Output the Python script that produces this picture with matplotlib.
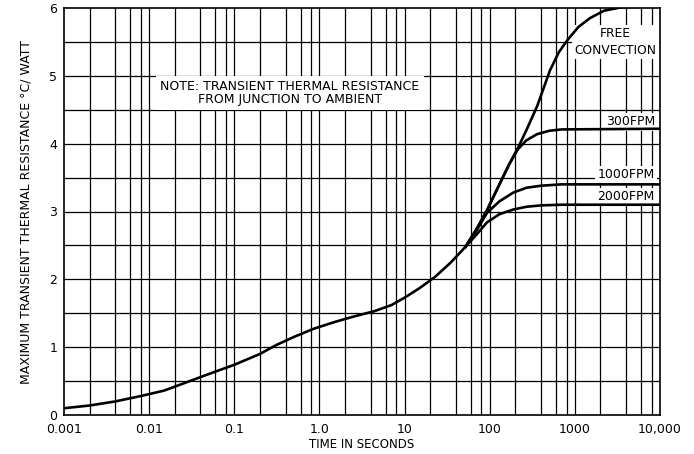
import matplotlib
matplotlib.use("Agg")
import matplotlib.pyplot as plt
import numpy as np

plt.rcParams['font.family'] = ['DejaVu Sans']

# common part of the curve (all conditions), time in s, resistance in degC/W
t_common = [0.001, 0.002, 0.004, 0.008, 0.015, 0.03, 0.06, 0.1, 0.2, 0.31, 0.5,
            0.85, 1.5, 2.5, 4.4, 7, 10, 15, 23, 35, 52]
r_common = [0.10, 0.14, 0.20, 0.28, 0.36, 0.50, 0.64, 0.74, 0.90, 1.03, 1.15,
            1.27, 1.37, 1.45, 1.53, 1.62, 1.73, 1.87, 2.04, 2.25, 2.48]

# branches after ~50 s
t_free = [52, 70, 93, 130, 170, 215, 270, 360, 510, 650, 810, 1100, 1500, 2200, 3500, 10000]
r_free = [2.48, 2.74, 3.02, 3.40, 3.70, 3.94, 4.20, 4.55, 5.08, 5.35, 5.52, 5.72, 5.85, 5.96, 6.01, 6.03]

t_300 = [52, 70, 93, 130, 170, 215, 270, 360, 500, 700, 10000]
r_300 = [2.48, 2.74, 3.02, 3.40, 3.70, 3.92, 4.05, 4.14, 4.19, 4.21, 4.22]

t_1000 = [52, 70, 93, 130, 190, 270, 400, 700, 10000]
r_1000 = [2.48, 2.72, 2.98, 3.15, 3.28, 3.35, 3.38, 3.40, 3.40]

t_2000 = [52, 70, 93, 130, 190, 270, 400, 700, 10000]
r_2000 = [2.48, 2.66, 2.84, 2.96, 3.03, 3.07, 3.09, 3.10, 3.10]

xtick_vals = [0.001, 0.01, 0.1, 1, 10, 100, 1000, 10000]
xtick_labels = ['0.001', '0.01', '0.1', '1.0', '10', '100', '1000', '10,000']

fig = plt.figure(figsize=(6.94, 4.54), dpi=100)
ax = fig.add_axes([64/694, 39/454, 596/694, 407/454])

# graph paper grid
decades = [0.001, 0.01, 0.1, 1, 10, 100, 1000]
vlines = []
for d in decades:
    for m in [2, 4, 6, 8]:
        vlines.append(d * m)
for x in vlines + xtick_vals[1:-1]:
    ax.axvline(x, color='black', lw=0.9, zorder=1)
for y in np.arange(0.5, 6.0, 0.5):
    ax.axhline(y, color='black', lw=0.9, zorder=1)

lw = 1.9
ax.plot(t_common, r_common, color='black', lw=lw, zorder=5)
ax.plot(t_free, r_free, color='black', lw=lw, zorder=5)
ax.plot(t_300, r_300, color='black', lw=lw, zorder=5)
ax.plot(t_1000, r_1000, color='black', lw=lw, zorder=5)
ax.plot(t_2000, r_2000, color='black', lw=lw, zorder=5)

ax.set_xscale('log')
ax.set_xlim(0.001, 10000)
ax.set_ylim(0, 6)
ax.set_xticks(xtick_vals)
ax.set_xticklabels(xtick_labels)
ax.set_xticks([], minor=True)
ax.set_yticks(range(7))
ax.tick_params(axis='x', length=0, labelsize=9, pad=6)
ax.tick_params(axis='y', length=0, labelsize=9, pad=5)
for s in ax.spines.values():
    s.set_linewidth(1.2)

ax.set_xlabel('TIME IN SECONDS', fontsize=8.5, labelpad=1)
ax.set_ylabel('MAXIMUM TRANSIENT THERMAL RESISTANCE \u00b0C/ WATT', fontsize=9, labelpad=12)

box = dict(facecolor='white', edgecolor='none', pad=1.5)
ax.text(0.45, 4.75, 'NOTE: TRANSIENT THERMAL RESISTANCE\nFROM JUNCTION TO AMBIENT',
        ha='center', va='center', fontsize=9, linespacing=1.0,
        bbox=dict(facecolor='white', edgecolor='none', pad=3), zorder=4)
ax.text(3000, 5.5, 'FREE\nCONVECTION', ha='center', va='center', fontsize=8.8,
        multialignment='center', linespacing=1.35, bbox=box, zorder=4)
ax.text(8700, 4.32, '300FPM', ha='right', va='center', fontsize=9, bbox=box, zorder=4)
ax.text(8700, 3.54, '1000FPM', ha='right', va='center', fontsize=9, bbox=box, zorder=4)
ax.text(8700, 3.22, '2000FPM', ha='right', va='center', fontsize=9, bbox=box, zorder=4)

fig.savefig('out.png', dpi=100)
